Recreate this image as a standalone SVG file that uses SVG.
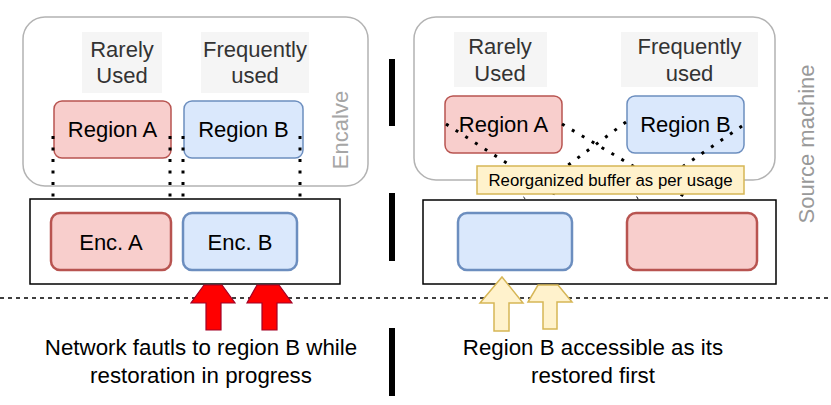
<svg xmlns="http://www.w3.org/2000/svg" width="831" height="405" viewBox="0 0 831 405">
<style>
text{font-family:"Liberation Sans",Arial,sans-serif;}
.t22{font-size:22px;text-anchor:middle;fill:#000;}
.cap{font-size:22.3px;text-anchor:middle;fill:#000;}
.lbl{font-size:22px;text-anchor:middle;fill:#333;}
.side{font-size:22px;text-anchor:middle;fill:#a6a6a6;}
.bg{fill:#f5f5f5;}
.group{fill:#fff;stroke:#b3b3b3;stroke-width:1.5;}
.frame{fill:#fff;stroke:#000;stroke-width:1.5;}
.red{fill:#f8cecc;stroke:#b85450;stroke-width:1.5;}
.blue{fill:#dae8fc;stroke:#6c8ebf;stroke-width:1.5;}
.redb{fill:#f8cecc;stroke:#b85450;stroke-width:2.5;}
.blueb{fill:#dae8fc;stroke:#6c8ebf;stroke-width:2.5;}
.dot{fill:none;stroke:#000;stroke-width:3;stroke-dasharray:3 8.5;}
.bar{fill:#000;}
.rarrow{fill:#ff0000;stroke:#a20025;stroke-width:1.2;}
.yarrow{fill:#fff2cc;stroke:#d6b656;stroke-width:1.5;}
</style>

<g id="left-enclave">
  <rect class="group" x="23" y="17" width="345" height="169" rx="22"/>
  <text class="side" transform="translate(348,130) rotate(-90)">Encalve</text>
</g>
<g id="right-enclave">
  <rect class="group" x="414" y="17" width="361" height="163" rx="22"/>
</g>
<g id="source-machine-label">
  <text class="side" transform="translate(814,144) rotate(-90)" style="fill:#999">Source machine</text>
</g>

<g id="left-rarely-label">
  <rect class="bg" x="82" y="32" width="80" height="61"/>
  <text class="lbl" x="122" y="57">Rarely</text>
  <text class="lbl" x="122" y="83">Used</text>
</g>
<g id="left-frequently-label">
  <rect class="bg" x="201" y="32" width="108" height="61"/>
  <text class="lbl" x="255" y="57">Frequently</text>
  <text class="lbl" x="255" y="83">used</text>
</g>
<g id="right-rarely-label">
  <rect class="bg" x="454" y="32" width="93" height="55"/>
  <text class="lbl" x="500" y="54">Rarely</text>
  <text class="lbl" x="500" y="81">Used</text>
</g>
<g id="right-frequently-label">
  <rect class="bg" x="621" y="32" width="137" height="55"/>
  <text class="lbl" x="689.5" y="54">Frequently</text>
  <text class="lbl" x="689.5" y="81">used</text>
</g>

<g id="left-region-a">
  <rect class="red" x="54" y="101" width="117" height="57" rx="8"/>
  <text class="t22" x="112.5" y="137">Region A</text>
</g>
<g id="left-region-b">
  <rect class="blue" x="184" y="101" width="119" height="57" rx="8"/>
  <text class="t22" x="243.5" y="137">Region B</text>
</g>
<g id="right-region-a">
  <rect class="red" x="445" y="96" width="117" height="57" rx="8"/>
  <text class="t22" x="503.5" y="132">Region A</text>
</g>
<g id="right-region-b">
  <rect class="blue" x="627" y="96" width="117" height="57" rx="8"/>
  <text class="t22" x="685.5" y="132">Region B</text>
</g>

<g id="left-memory">
  <rect class="frame" x="30" y="199" width="310" height="85"/>
</g>
<g id="enc-a">
  <rect class="redb" x="51" y="213" width="120" height="57" rx="9"/>
  <text class="t22" x="111" y="250">Enc. A</text>
</g>
<g id="enc-b">
  <rect class="blueb" x="183" y="213" width="114" height="57" rx="9"/>
  <text class="t22" x="240" y="250">Enc. B</text>
</g>

<g id="right-memory">
  <rect class="frame" x="423" y="200" width="353" height="84"/>
</g>
<g id="restored-b">
  <rect class="blueb" x="458" y="213" width="114" height="57" rx="9"/>
</g>
<g id="restored-a">
  <rect class="redb" x="627" y="213" width="130" height="57" rx="9"/>
</g>

<g id="connectors">
  <line class="dot" x1="53" y1="136" x2="53" y2="198"/>
  <line class="dot" x1="170" y1="136" x2="170" y2="198"/>
  <line class="dot" x1="183" y1="136" x2="183" y2="198"/>
  <line class="dot" x1="300" y1="136" x2="300" y2="198"/>
  <line class="dot" x1="446" y1="124" x2="561" y2="198"/>
  <line class="dot" x1="562" y1="124" x2="687" y2="198"/>
  <line class="dot" x1="626" y1="122" x2="524" y2="198"/>
  <line class="dot" x1="742" y1="126" x2="637" y2="198"/>
  <line x1="0" y1="298" x2="831" y2="298" stroke="#000" stroke-width="1.5" stroke-dasharray="4 4"/>
</g>

<g id="buffer-label">
  <rect class="yarrow" x="477" y="166" width="267" height="28"/>
  <text x="610.5" y="185.5" style="font-size:16.8px;text-anchor:middle;fill:#000">Reorganized buffer as per usage</text>
</g>

<g id="separators">
  <rect class="bar" x="389" y="59" width="6" height="67"/>
  <rect class="bar" x="389" y="193" width="6" height="68"/>
  <rect class="bar" x="389" y="328" width="6" height="68"/>
</g>

<g id="red-arrows">
  <polygon class="rarrow" points="204,285 222,285 235,303 221,303 221,330 206,330 206,303 191,303"/>
  <polygon class="rarrow" points="257,285 279,285 292,303 277,303 277,330 262,330 262,303 247,303"/>
</g>
<g id="yellow-arrows">
  <polygon class="yarrow" points="502,277 523,303 509,303 509,331 494,331 494,303 480,303"/>
  <polygon class="yarrow" points="538,285 558,285 572,302 557,302 557,329 543,329 543,302 528,302"/>
</g>

<g id="left-caption">
  <text class="cap" x="201" y="355">Network fautls to region B while</text>
  <text class="cap" x="201" y="383">restoration in progress</text>
</g>
<g id="right-caption">
  <text class="cap" x="593" y="355">Region B accessible as its</text>
  <text class="cap" x="593" y="383">restored first</text>
</g>
</svg>
